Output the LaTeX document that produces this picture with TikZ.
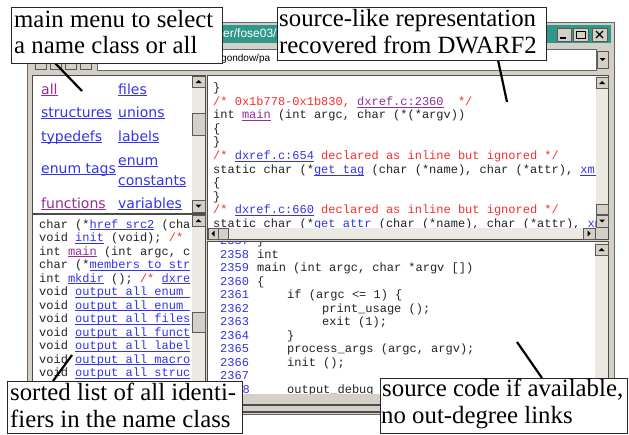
\documentclass[tikz,border=0pt]{standalone}
\usepackage{fontspec}
\setmainfont{Liberation Serif}
\setmonofont{Liberation Mono}
\setsansfont{DejaVu Sans}
\newfontfamily\uisans{Liberation Sans}
\newfontfamily\callserif{Liberation Serif}
\definecolor{wgray}{RGB}{212,208,200}
\definecolor{wtrack}{RGB}{236,233,226}
\definecolor{tealbar}{RGB}{48,152,138}
\definecolor{lnk}{RGB}{51,51,235}
\definecolor{vis}{RGB}{150,45,150}
\definecolor{cmt}{RGB}{250,45,45}
\definecolor{codec}{RGB}{35,35,35}
\newcommand\ulk[1]{\setbox0=\hbox{#1}\rlap{\rule[-2.2pt]{\wd0}{0.8pt}}\box0}
\newcommand\lnkt[1]{{\color{lnk}\relax\ulk{#1}}}
\newcommand\vist[1]{{\color{vis}\relax\ulk{#1}}}
\newcommand\cmtt[1]{{\color{cmt}\relax#1}}
\newcommand\sbtn[5]{%
  \draw[btn] (#1,#2) rectangle (#3,#4);
  \coordinate (bc) at ({(#1+#3)/2},{(#2+#4)/2});
  \ifx u#5\fill (bc) ++(-3,1.5) -- ++(6,0) -- ++(-3,-3) -- cycle;\fi
  \ifx d#5\fill (bc) ++(-3,-1.5) -- ++(6,0) -- ++(-3,3) -- cycle;\fi
  \ifx l#5\fill (bc) ++(1.5,-3) -- ++(0,6) -- ++(-3,-3) -- cycle;\fi
  \ifx r#5\fill (bc) ++(-1.5,-3) -- ++(0,6) -- ++(3,-3) -- cycle;\fi
}
\tikzset{
  btn/.style={fill=wgray, draw=black!65, line width=0.6pt},
  trk/.style={fill=wtrack},
  pane/.style={fill=white, draw=black!70, line width=0.8pt},
  lead/.style={draw=black, line width=2.2pt},
  callbox/.style={draw=black!85, line width=1pt, fill=white, inner sep=0pt, anchor=north west},
  calltxt/.style={font=\callserif\fontsize{24.8}{26}\selectfont, anchor=base west, inner sep=0pt},
  code/.style={font=\fontsize{12}{13.5}\ttfamily, text=codec, anchor=base west, inner sep=0pt},
  lno/.style={font=\fontsize{12}{13.5}\ttfamily, text=lnk, anchor=base west, inner sep=0pt},
  menu/.style={font=\fontsize{14}{16}\sffamily, anchor=base west, inner sep=0pt},
}
\begin{document}
\begin{tikzpicture}[x=1pt,y=-1pt]
\useasboundingbox (0,0) rectangle (629,434);
\fill[white] (0,0) rectangle (629,434);

% window frame
\draw[fill=wgray, draw=black!60, line width=0.8pt] (27,22) rectangle (614,414);
\fill[tealbar] (30,25) rectangle (611,43);
\node[font=\fontsize{12}{13}\uisans, text=white, anchor=base west, inner sep=0pt] (title) at (223,37) {er/fose03/};
\draw[btn] (557,28) rectangle (571,41); \draw[line width=1.5pt] (560,38) -- (566,38);
\draw[btn] (573,28) rectangle (588,41); \draw[line width=0.8pt] (576,31) rectangle (585,38.5); \draw[line width=1.5pt] (576,31.5) -- (585,31.5);
\draw[btn] (592,28) rectangle (607,41); \draw[line width=1.3pt] (596,31) -- (603,38) (603,31) -- (596,38);

% toolbar and address row
\foreach \bx in {35,50,65,80} \draw[btn] (\bx,58) rectangle ++(11,11);
\draw[fill=white, draw=black!60] (97,49) rectangle (596,70);
\node[font=\fontsize{10}{11}\uisans, anchor=base west, inner sep=0pt] (addr) at (221,61) {gondow/pa};
\sbtn{597}{51}{608}{68}{d}

% ---------- menu pane
\draw[pane] (32,75) rectangle (205,213);
\begin{scope}
\clip (33,76) rectangle (192,212);
\node[menu] (m1) at (41,94) {\vist{all}};
\node[menu] (m2) at (118,94) {\lnkt{files}};
\node[menu] (m3) at (41,117) {\lnkt{structures}};
\node[menu] (m4) at (118,117) {\lnkt{unions}};
\node[menu] (m5) at (41,141) {\lnkt{typedefs}};
\node[menu] (m6) at (118,141) {\lnkt{labels}};
\node[menu] (m7) at (41,173) {\lnkt{enum tags}};
\node[menu] (m8) at (118,165) {\lnkt{enum}};
\node[menu] (m9) at (118,185) {\lnkt{constants}};
\node[menu] (m10) at (41,208) {\vist{functions}};
\node[menu] (m11) at (118,208) {\lnkt{variables}};
\end{scope}
\fill[trk] (192,76) rectangle (205,212);
\sbtn{192}{76}{205}{87}{u}
\sbtn{192}{113}{205}{135}{n}
\sbtn{192}{200}{205}{212}{d}

% ---------- list pane
\draw[pane] (32,214) rectangle (205,394);
\begin{scope}
\clip (33,215) rectangle (192,394);
\node[code] (l1) at (39,228) {char (*\lnkt{href src2} (cha};
\node[code] (l2) at (39,241.5) {void \lnkt{init} (void); \cmtt{/*}};
\node[code] (l3) at (39,255) {int \vist{main} (int argc, c};
\node[code] (l4) at (39,268.5) {char (*\lnkt{members to str}};
\node[code] (l5) at (39,282) {int \lnkt{mkdir} (); \cmtt{/*} \lnkt{dxre}};
\node[code] (l6) at (39,295.5) {void \lnkt{output all enum }};
\node[code] (l7) at (39,309) {void \lnkt{output all enum }};
\node[code] (l8) at (39,322.5) {void \lnkt{output all files}};
\node[code] (l9) at (39,336) {void \lnkt{output all funct}};
\node[code] (l10) at (39,349.5) {void \lnkt{output all label}};
\node[code] (l11) at (39,363) {void \lnkt{output all macro}};
\node[code] (l12) at (39,376.5) {void \lnkt{output all struc}};
\end{scope}
\fill[trk] (192,215) rectangle (205,394);
\sbtn{192}{215}{205}{226}{u}
\sbtn{192}{312}{205}{332}{n}

% ---------- source-like pane
\draw[pane] (207,75) rectangle (608,239);
\begin{scope}
\clip (208,76) rectangle (596,228);
\node[code] (s0) at (213,91.5) {\}};
\node[code] (s1) at (213,105.1) {\cmtt{/* 0x1b778-0x1b830, }\vist{dxref.c:2360}\cmtt{~~*/}};
\node[code] (s2) at (213,118.7) {int \vist{main} (int argc, char (*(*argv))};
\node[code] (s3) at (213,132.3) {\{};
\node[code] (s4) at (213,145.9) {\}};
\node[code] (s5) at (213,159.5) {\cmtt{/* }\lnkt{dxref.c:654}\cmtt{~declared as inline but ignored */}};
\node[code] (s6) at (213,173.1) {static char (*\lnkt{get tag} (char (*name), char (*attr), \lnkt{xml}};
\node[code] (s7) at (213,186.7) {\{};
\node[code] (s8) at (213,200.3) {\}};
\node[code] (s9) at (213,213.9) {\cmtt{/* }\lnkt{dxref.c:660}\cmtt{~declared as inline but ignored */}};
\node[code] (s10) at (213,227.5) {static char (*\lnkt{get attr} (char (*name), char (*attr), \lnkt{xml}};
\end{scope}
\fill[trk] (596,76) rectangle (608,228);
\sbtn{596}{77}{608}{88}{u}
\sbtn{596}{204}{608}{214}{n}
\sbtn{596}{215}{608}{227}{d}
\fill[trk] (208,228) rectangle (596,239);
\sbtn{208}{228}{218}{239}{l}
\sbtn{218}{228}{228}{239}{n}
\sbtn{583}{228}{595}{239}{r}
\fill[wgray] (596,228) rectangle (608,239);

% ---------- source code pane
\draw[pane] (207,241) rectangle (608,394);
\begin{scope}
\clip (208,242) rectangle (595,394);
\node[lno] (n57) at (220,244.5) {2357};  \node[code] (c57) at (257,244.5) {\}};
\node[lno] (n58) at (220,258) {2358};    \node[code] (c58) at (257,258) {int};
\node[lno] (n59) at (220,271.5) {2359};  \node[code] (c59) at (257,271.5) {main (int argc, char *argv [])};
\node[lno] (n60) at (220,285) {2360};    \node[code] (c60) at (257,285) {\{};
\node[lno] (n61) at (220,298.5) {2361};  \node[code] (c61) at (287,298.5) {if (argc <= 1) \{};
\node[lno] (n62) at (220,312) {2362};    \node[code] (c62) at (322,312) {print\_usage ();};
\node[lno] (n63) at (220,325.5) {2363};  \node[code] (c63) at (322,325.5) {exit (1);};
\node[lno] (n64) at (220,339) {2364};    \node[code] (c64) at (287,339) {\}};
\node[lno] (n65) at (220,352.5) {2365};  \node[code] (c65) at (287,352.5) {process\_args (argc, argv);};
\node[lno] (n66) at (220,366) {2366};    \node[code] (c66) at (287,366) {init ();};
\node[lno] (n67) at (220,379.5) {2367};
\node[lno] (n68) at (242.5,393) {8};     \node[code] (c68) at (287,393) {output\_debug};
\end{scope}
\fill[trk] (595,242) rectangle (608,394);
\sbtn{595}{244}{608}{255}{u}

% bottom scrollbar strip
\fill[wgray] (30,394) rectangle (611,404);
\draw[black!70, line width=1.2pt] (30,405) -- (611,405);
\draw[black!70, line width=1.2pt] (27,412) -- (614,412);

% ---------- leads
\coordinate (l1s) at (55,63);   \coordinate (l1e) at (82,91);
\coordinate (l2s) at (498,60);  \coordinate (l2e) at (507,102);
\coordinate (l3s) at (53,381);  \coordinate (l3e) at (72,355);
\coordinate (l4s) at (542,378); \coordinate (l4e) at (517,342);
\draw[lead] (l1s) -- (l1e);
\draw[lead] (l2s) -- (l2e);
\draw[lead] (l3s) -- (l3e);
\draw[lead] (l4s) -- (l4e);

% ---------- callouts
\node[callbox, minimum width=211pt, minimum height=56pt] (c1) at (11,7) {};
\node[calltxt] (c1a) at (14,27) {main menu to select};
\node[calltxt] (c1b) at (14,53) {a name class or all};

\node[callbox, minimum width=269pt, minimum height=53pt] (c2) at (277,7) {};
\node[calltxt] (c2a) at (279,26) {source-like representation};
\node[calltxt] (c2b) at (279,53) {recovered from DWARF2};

\node[callbox, minimum width=235pt, minimum height=52pt] (c3) at (7,381) {};
\node[calltxt] (c3a) at (10,400) {sorted list of all identi-};
\node[calltxt] (c3b) at (10,427) {fiers in the name class};

\node[callbox, minimum width=247pt, minimum height=55pt] (c4) at (380,378) {};
\node[calltxt] (c4a) at (382,396) {source code if available,};
\node[calltxt] (c4b) at (381,423) {no out-degree links};
\end{tikzpicture}
\end{document}
